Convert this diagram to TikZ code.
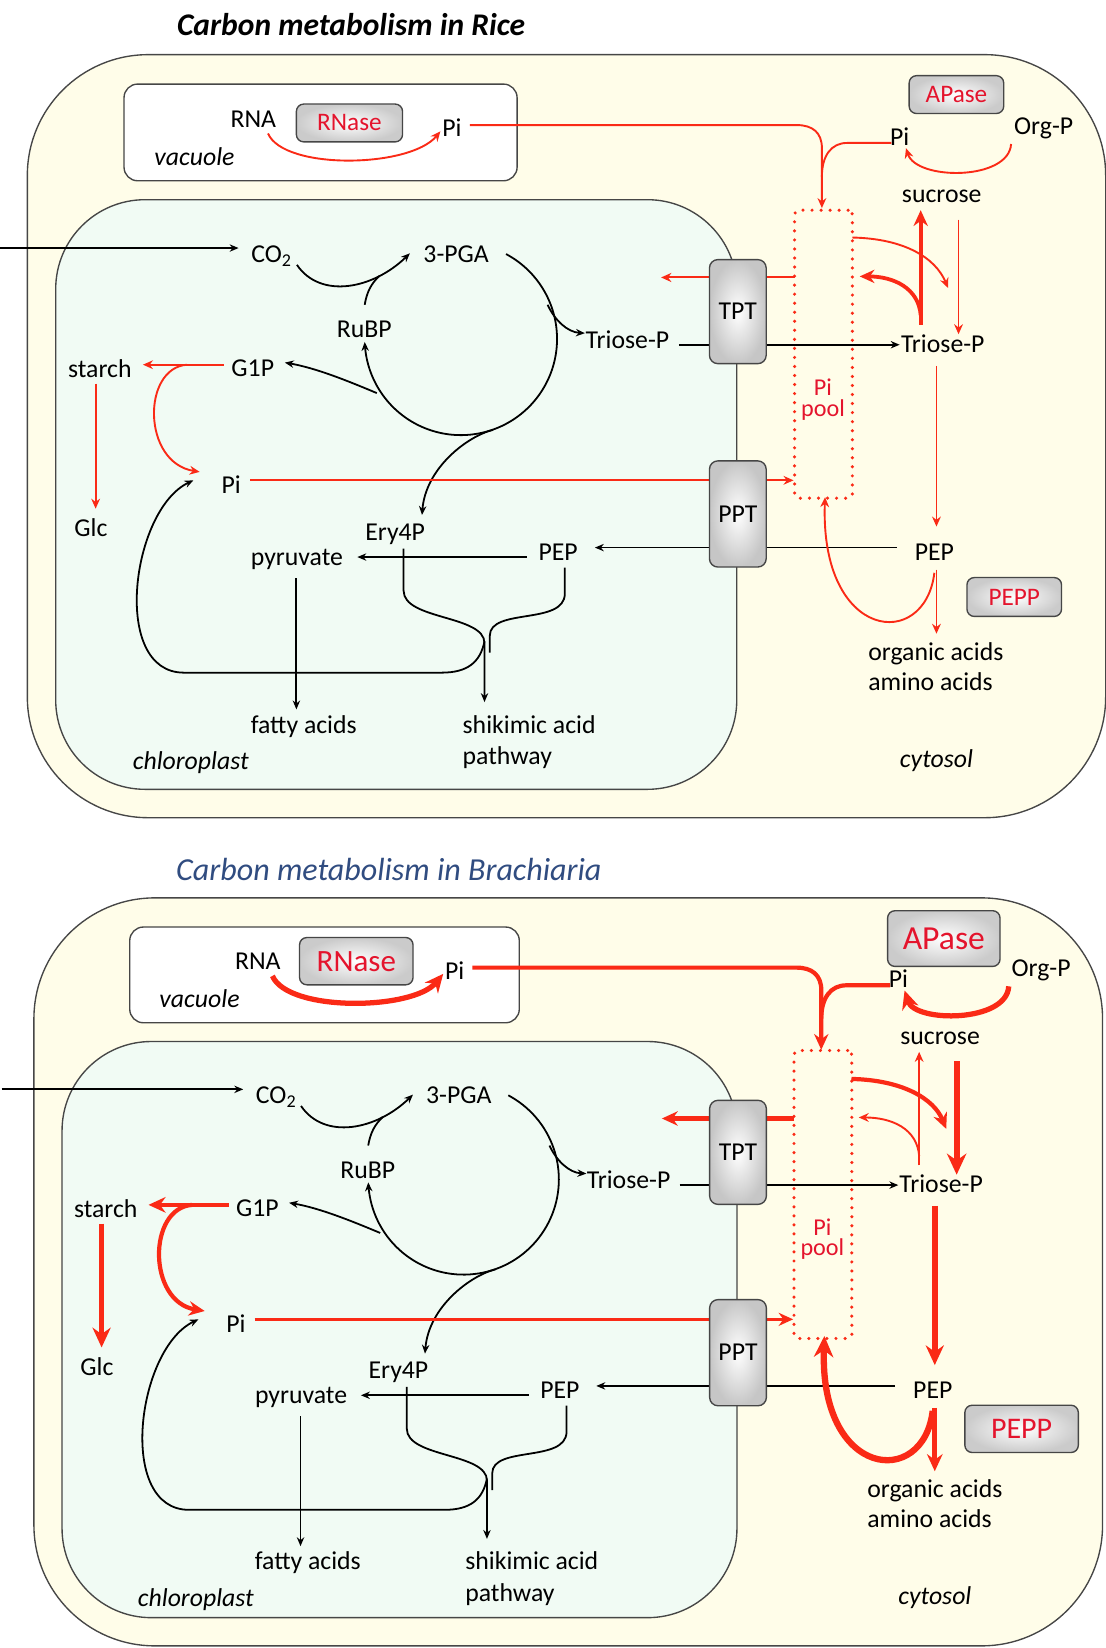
\documentclass[tikz,border=0pt]{standalone}
\usepackage{fontspec}
\setmainfont{Carlito}
\usetikzlibrary{arrows.meta}
\pgfdeclarelayer{fg}
\pgfsetlayers{main,fg}
\definecolor{cellfill}{RGB}{255,253,233}
\definecolor{chlfill}{RGB}{241,251,244}
\definecolor{arrred}{RGB}{250,42,22}
\definecolor{txtred}{RGB}{228,20,45}
\definecolor{edgegray}{RGB}{70,70,70}
\definecolor{boxgray}{RGB}{198,198,198}
\definecolor{enzgray}{RGB}{203,203,203}
\definecolor{brachblue}{RGB}{48,76,128}
\tikzset{
  lbl/.style={inner sep=1pt, text=black},
  lblb/.style={inner sep=0pt, text=black, anchor=base west},
  cellbox/.style={draw=edgegray, line width=1.3pt, fill=cellfill, rounded corners=115pt},
  chlbox/.style={draw=edgegray, line width=1.3pt, fill=chlfill, rounded corners=85pt},
  vacbox/.style={draw=edgegray, line width=1.3pt, fill=white, rounded corners=13pt},
  transbox/.style={draw=edgegray, line width=1.3pt, rounded corners=8pt, inner color=white, outer color=boxgray, minimum width=54pt, inner sep=0pt},
  enzbox/.style={draw=edgegray, line width=1.3pt, rounded corners=7pt, inner color=white, outer color=enzgray, text=txtred, inner sep=0pt},
  poolbox/.style={draw=arrred, line width=3.3pt, dash pattern=on 0pt off 8.6pt, line cap=round, rounded corners=4pt, inner sep=0pt},
  blk/.style={draw=black, line width=1.7pt},
  blka/.style={draw=black, line width=1.7pt, -{Stealth[length=8.5pt,width=7pt]}},
  ra/.style={draw=arrred, line width=#1, -{Stealth[length=5pt 2.5,width=4pt 2.4]}},
  rl/.style={draw=arrred, line width=#1},
}
\newcommand\drawpanel[2]{%
  \path[cellbox] (26,52) rectangle (1052,#1);
  \path[vacbox] (118,80) rectangle (492,172);
  \path[chlbox] (53,190) rectangle (701,#2);
  % labels
  \node[lbl] (rna) at (241,113) {RNA};
  \node[lbl] (piv) at (430,121.5) {Pi};
  \node[lbl] (vacl) at (185,149) {\itshape vacuole};
  \node[lbl] (pic) at (856,130) {Pi};
  \node[lbl] (orgp) at (993,122) {Org-P};
  \node[lbl] (suc) at (896,187) {sucrose};
  \node[lblb] (co2) at (239,250) {CO\textsubscript{2}};
  \node[lbl] (pga) at (434,242) {3-PGA};
  \node[lbl] (rubp) at (346.5,313.5) {RuBP};
  \node[lbl] (g1p) at (240.5,350) {G1P};
  \node[lbl] (starch) at (95,351) {starch};
  \node[lbl] (glc) at (86.5,502) {Glc};
  \node[lbl] (pich) at (220,461) {Pi};
  \node[lbl] (ery) at (376,508) {Ery4P};
  \node[lbl] (pyr) at (282.5,532) {pyruvate};
  \node[lbl] (pepch) at (531,525) {PEP};
  \node[lbl] (pepcy) at (889,525) {PEP};
  \node[lbl] (fatty) at (289,691) {fatty acids};
  \node[lblb] (shik) at (440,697.5) {shikimic acid};
  \node[lblb] (pathw) at (440,727.7) {pathway};
  \node[lbl] (chll) at (181.5,726) {\itshape chloroplast};
  \node[lbl] (cytl) at (891,724) {\itshape cytosol};
  \node[lblb] (oa) at (826,628) {organic acids};
  \node[lblb] (aa) at (826,657) {amino acids};
  \node[lbl] (trich) at (597,323) {Triose-P};
  \node[lbl] (tricy) at (897,327) {Triose-P};
  \node[poolbox, minimum width=55pt, minimum height=274pt] (pool) at (783.5,337) {};
  \node[inner sep=0pt, align=center, text=txtred, font=\fontsize{23}{19.5}\selectfont] (poolt) at (783,380) {Pi\\pool};
  % connector end points
  \coordinate (co2in) at (-5,236);
  \coordinate (co2tip) at (227,236);
  \coordinate (cvA) at (282.5,252);
  \coordinate (cvB) at (390,241);
  \coordinate (rubpT) at (347,290);
  \coordinate (rubpJ) at (361,262.5);
  \coordinate (trBr) at (521,290);
  \coordinate (trTip) at (556.5,317);
  \coordinate (g1Br) at (358.5,374);
  \coordinate (g1Tip) at (271,345);
  \coordinate (erBr) at (469,409);
  \coordinate (erTip) at (401.5,490);
  \coordinate (junc) at (461,610);
  \coordinate (piLoop) at (184,457);
  \coordinate (eryB) at (384,522);
  \coordinate (shikTip) at (461,668);
  \coordinate (pepB) at (537.4,540);
  \coordinate (juncR) at (466,621);
  \coordinate (pepL) at (501,530);
  \coordinate (pyrTip) at (340,530);
  \coordinate (pyrB) at (282,550);
  \coordinate (fatTip) at (282,675);
  \coordinate (trR) at (646,328);
  \coordinate (trcyTip) at (856,328);
  \coordinate (pepcyL) at (853,521);
  \coordinate (pepchTip) at (566,521);
  \coordinate (rnaB) at (255,127);
  \coordinate (piVtip) at (419,125);
  \coordinate (piVR) at (447,119);
  \coordinate (poolTop) at (782,198);
  \coordinate (picL) at (848,136);
  \coordinate (vacJ) at (782,168);
  \coordinate (orgB) at (962,137);
  \coordinate (picTip) at (862,141);
  \coordinate (poolL) at (756,264);
  \coordinate (tptTip) at (629,264);
  \coordinate (poolR) at (811,226);
  \coordinate (tricyTipA) at (902,274);
  \coordinate (tricyT) at (876,309);
  \coordinate (sucTip) at (876,200);
  \coordinate (brPool) at (876,300);
  \coordinate (poolRTip) at (818,263);
  \coordinate (sucB) at (912,209);
  \coordinate (tricyTipB) at (912,318);
  \coordinate (tricyB) at (891,348);
  \coordinate (pepcyTip) at (891,501);
  \coordinate (pepcyB) at (891,542);
  \coordinate (oaTip) at (891,603);
  \coordinate (pepcyC) at (889,545);
  \coordinate (poolBTip) at (785,473);
  \coordinate (g1pL) at (213,347);
  \coordinate (starchTip) at (136,347);
  \coordinate (gpS) at (178,347);
  \coordinate (gpTip) at (190,449);
  \coordinate (starchB) at (91,365);
  \coordinate (glcTip) at (91,484);
  \coordinate (pichR) at (238,457);
  \coordinate (poolPiTip) at (755,457);
  % black connectors
  \draw[blka] (co2in) -- (co2tip);
  \draw[blka] (cvA) .. controls (305,285) and (355,275) .. (cvB);
  \draw[blk] (rubpT) .. controls (349,278) and (353,270) .. (rubpJ);
  \draw[blka] plot[domain=0:240.2, samples=90, smooth] ({438.5+91.5*cos(62-\x)},{322.5-91.5*sin(62-\x)});
  \draw[blka] (trBr) .. controls (528,305) and (540,316) .. (trTip);
  \draw[blka] (g1Br) .. controls (330,362) and (300,350) .. (g1Tip);
  \draw[blka] (erBr) .. controls (445,415) and (405,445) .. (erTip);
  \draw[blka] (junc) .. controls (457,630) and (445,640) .. (420,640) -- (175,640) .. controls (105,640) and (125,485) .. (piLoop);
  \draw[blka] (eryB) -- (384,562) .. controls (384,590) and (461,585) .. (461,612) -- (shikTip);
  \draw[blk] (pepB) -- (537.4,565) .. controls (537,595) and (466,578) .. (466,605) -- (juncR);
  \draw[blka] (pepL) -- (pyrTip);
  \draw[blka] (pyrB) -- (fatTip);
  \draw[blka] (trR) -- (trcyTip);
  \draw[blka] (pepcyL) -- (pepchTip);
  % red connectors
  \draw[arRna] (rnaB) .. controls (270,162) and (390,160) .. (piVtip);
  \draw[arVac] (piVR) -- (758,119) .. controls (773,119) and (782,126) .. (782,141) -- (poolTop);
  \draw[arVacL] (picL) -- (806,136) .. controls (791,136) and (782,148) .. (vacJ);
  \draw[arApa] (orgB) .. controls (960,172) and (872,172) .. (picTip);
  \draw[arPout] (poolL) -- (tptTip);
  \draw[arPtri] (poolR) .. controls (860,227) and (890,245) .. (tricyTipA);
  \draw[arTsuc] (tricyT) -- (sucTip);
  \draw[arTpool] (brPool) .. controls (874,274) and (850,263) .. (poolRTip);
  \draw[arStri] (sucB) -- (tricyTipB);
  \draw[arTpep] (tricyB) -- (pepcyTip);
  \draw[arPorg] (pepcyB) -- (oaTip);
  \draw[arPpool] (pepcyC) .. controls (880,620) and (780,610) .. (poolBTip);
  \draw[arGst] (g1pL) -- (starchTip);
  \draw[arGpi] (gpS) .. controls (135,350) and (135,440) .. (gpTip);
  \draw[arSglc] (starchB) -- (glcTip);
  \draw[arPippt] (pichR) -- (poolPiTip);
  \begin{pgfonlayer}{fg}
    \node[transbox, minimum height=99pt] (tpt) at (702,296.5) {TPT};
    \node[transbox, minimum height=101pt] (ppt) at (702,489) {PPT};
  \end{pgfonlayer}
}
\begin{document}
\begin{tikzpicture}[x=1pt, y=-1pt, font=\fontsize{24.5}{30}\selectfont]
\useasboundingbox (0,0) rectangle (1052,1568);
% ---------- Rice ----------
\node[font=\fontsize{30}{36}\selectfont\bfseries\itshape] (titleR) at (334,23) {Carbon metabolism in Rice};
\begin{scope}[name prefix=r-,
  arRna/.style={ra=1.8pt}, arVac/.style={ra=1.8pt}, arVacL/.style={rl=1.8pt},
  arApa/.style={ra=1.8pt}, arPout/.style={ra=1.9pt}, arPtri/.style={ra=1.8pt},
  arTsuc/.style={ra=4pt}, arTpool/.style={ra=3.6pt}, arStri/.style={ra=1.8pt},
  arTpep/.style={ra=1.8pt}, arPorg/.style={ra=1.8pt}, arPpool/.style={ra=1.8pt},
  arGst/.style={ra=1.8pt}, arGpi/.style={ra=1.8pt}, arSglc/.style={ra=1.8pt},
  arPippt/.style={ra=1.8pt}]
  \drawpanel{778}{751}
\end{scope}
\begin{pgfonlayer}{fg}
  \node[enzbox, minimum width=101pt, minimum height=36pt, font=\fontsize{24}{28}\selectfont] (rnaseR) at (332.5,117) {RNase};
  \node[enzbox, minimum width=90pt, minimum height=36pt, font=\fontsize{24}{28}\selectfont] (apaseR) at (910,90) {APase};
  \node[enzbox, minimum width=90pt, minimum height=37pt, font=\fontsize{24}{28}\selectfont] (peppR) at (965,568) {PEPP};
\end{pgfonlayer}
% ---------- Brachiaria ----------
\node[font=\fontsize{30.5}{36}\selectfont\itshape, text=brachblue] (titleB) at (370,827) {Carbon metabolism in Brachiaria};
\begin{scope}[shift={(6.5,802.8)}, xscale=0.991, yscale=0.9902, name prefix=b-,
  arRna/.style={ra=5pt}, arVac/.style={ra=4pt}, arVacL/.style={rl=4pt},
  arApa/.style={ra=5pt}, arPout/.style={ra=4pt}, arPtri/.style={ra=4pt},
  arTsuc/.style={ra=1.8pt}, arTpool/.style={ra=1.8pt}, arStri/.style={ra=6pt},
  arTpep/.style={ra=5.5pt}, arPorg/.style={ra=4.5pt}, arPpool/.style={ra=6pt},
  arGst/.style={ra=4.5pt}, arGpi/.style={ra=4pt}, arSglc/.style={ra=5.5pt},
  arPippt/.style={ra=3.5pt}]
  \drawpanel{770.7}{743.6}
\end{scope}
\begin{pgfonlayer}{fg}
  \node[enzbox, minimum width=108pt, minimum height=45pt, font=\fontsize{29.5}{34}\selectfont] (rnaseB) at (339,914.5) {RNase};
  \node[enzbox, minimum width=107pt, minimum height=53pt, font=\fontsize{32}{36}\selectfont] (apaseB) at (898,893) {APase};
  \node[enzbox, minimum width=108pt, minimum height=45pt, font=\fontsize{28.5}{34}\selectfont] (peppB) at (972,1359.5) {PEPP};
\end{pgfonlayer}
\end{tikzpicture}
\end{document}
